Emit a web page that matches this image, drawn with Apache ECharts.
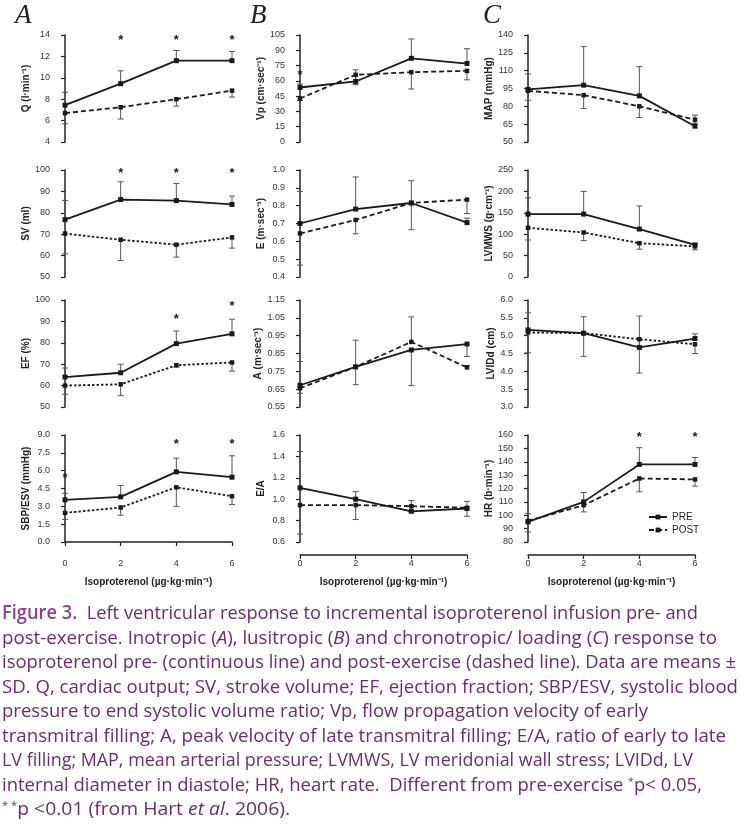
<!DOCTYPE html>
<html><head><meta charset="utf-8">
<script src="https://cdn.jsdelivr.net/npm/echarts@6/dist/echarts.min.js"></script>
<style>
html,body{margin:0;padding:0;background:#fff;}
#chart{position:absolute;left:0;top:0;width:740px;height:600px;}
.ln{position:absolute;left:2px;white-space:nowrap;font-family:"Open Sans","Noto Sans",sans-serif;font-size:19px;color:#6a2c6f;transform-origin:0 50%;line-height:24px;}
.fig{color:#8f3f95;font-weight:600;}
sup{font-size:11px;vertical-align:6px;line-height:0;}
</style></head>
<body>
<div id="chart"></div>
<div id="cap"></div>
<script>
// ---------- data ----------
const X = [0, 2, 4, 6];

const Q_PRE = [7.45, 9.45, 11.6, 11.6];
const Q_PRE_SD = [1.2, 1.2, 0.95, 0.85];
const Q_POST = [6.7, 7.25, 8.0, 8.8];
const Q_POST_SD = [1.0, 1.1, 0.65, 0.6];
const Q_STARS = [[2, 13.5], [4, 13.5], [6, 13.5]];

const SV_PRE = [76.8, 86.2, 85.7, 83.9];
const SV_PRE_SD = [9, 8.3, 8, 3.9];
const SV_POST = [70.3, 67.4, 65.1, 68.5];
const SV_POST_SD = [9.5, 9.7, 5.8, 5];
const SV_STARS = [[2, 98.5], [4, 98.5], [6, 98.5]];

const EF_PRE = [64, 66, 79.6, 84.2];
const EF_PRE_SD = [4.2, 4, 5.9, 6.8];
const EF_POST = [60, 60.6, 69.5, 70.8];
const EF_POST_SD = [4, 5.3, 0.8, 4];
const EF_STARS = [[4, 90.8], [6, 97]];

const SBP_PRE = [3.55, 3.8, 5.9, 5.45];
const SBP_PRE_SD = [0.55, 0.95, 1.15, 1.8];
const SBP_POST = [2.45, 2.9, 4.6, 3.85];
const SBP_POST_SD = [0.55, 0.65, 1.6, 0.7];
const SBP_STARS = [[0, 5.35], [4, 8.2], [6, 8.2]];

const VP_PRE = [53.5, 59.4, 82.1, 77];
const VP_PRE_SD = [3.3, 11.4, 19, 14.6];
const VP_POST = [42.7, 65.9, 68.5, 69.8];
const VP_POST_SD = [2, 9.7, 16.5, 8.8];
const VP_STARS = [[0, 65]];

const E_PRE = [0.70, 0.781, 0.815, 0.705];
const E_PRE_SD = [0.18, 0.18, 0.125, 0.025];
const E_POST = [0.644, 0.72, 0.815, 0.834];
const E_POST_SD = [0.177, 0.078, 0.15, 0.078];

const A_PRE = [0.672, 0.775, 0.87, 0.903];
const A_PRE_SD = [0.045, 0.1, 0.2, 0.07];
const A_POST = [0.655, 0.775, 0.915, 0.772];
const A_POST_SD = [0.15, 0.15, 0.14, 0.01];

const EA_PRE = [1.106, 1.0, 0.887, 0.913];
const EA_PRE_SD = [0.34, 0.07, 0.1, 0.067];
const EA_POST = [0.945, 0.945, 0.935, 0.92];
const EA_POST_SD = [0.27, 0.135, 0.055, 0.08];

const MAP_PRE = [94.2, 97.8, 88.8, 63.3];
const MAP_PRE_SD = [13, 32.4, 24.6, 9.3];
const MAP_POST = [93, 89.4, 80, 68.8];
const MAP_POST_SD = [7.9, 11.2, 9.4, 3];

const LVMWS_PRE = [147, 147, 112, 75];
const LVMWS_PRE_SD = [38, 53, 54, 3];
const LVMWS_POST = [115, 104, 79, 71.5];
const LVMWS_POST_SD = [28.5, 19, 14, 8];

const LVIDD_PRE = [5.16, 5.07, 4.67, 4.92];
const LVIDD_PRE_SD = [0.48, 0.46, 0.88, 0.13];
const LVIDD_POST = [5.09, 5.07, 4.9, 4.76];
const LVIDD_POST_SD = [0.57, 0.65, 0.95, 0.26];

const HR_PRE = [95, 110, 138, 138];
const HR_PRE_SD = [6.2, 7, 12.5, 5.2];
const HR_POST = [95.8, 107.5, 127.5, 126.8];
const HR_POST_SD = [8.3, 5, 10, 5];
const HR_STARS = [[4, 158], [6, 158]];

const X_TITLE = 'Isoproterenol (µg·kg·min⁻¹)';
const PANEL_LETTERS = ['A', 'B', 'C'];

// ---------- panels ----------
const DASH = [5, 3], DOT = [2.5, 2];
const PANELS = [
  {col:0,row:0,name:'Q (l·min⁻¹)',min:4,max:14,step:2,dec:0,pre:Q_PRE,preSd:Q_PRE_SD,post:Q_POST,postSd:Q_POST_SD,stars:Q_STARS,dash:DASH,dir:1},
  {col:0,row:1,name:'SV (ml)',min:50,max:100,step:10,dec:0,pre:SV_PRE,preSd:SV_PRE_SD,post:SV_POST,postSd:SV_POST_SD,stars:SV_STARS,dash:DOT,dir:1},
  {col:0,row:2,name:'EF (%)',min:50,max:100,step:10,dec:0,pre:EF_PRE,preSd:EF_PRE_SD,post:EF_POST,postSd:EF_POST_SD,stars:EF_STARS,dash:DOT,dir:1},
  {col:0,row:3,name:'SBP/ESV (mmHg)',min:0,max:9,step:1.5,dec:1,pre:SBP_PRE,preSd:SBP_PRE_SD,post:SBP_POST,postSd:SBP_POST_SD,stars:SBP_STARS,dash:DOT,dir:1},
  {col:1,row:0,name:'Vp (cm·sec⁻¹)',min:0,max:105,step:15,dec:0,pre:VP_PRE,preSd:VP_PRE_SD,post:VP_POST,postSd:VP_POST_SD,stars:VP_STARS,dash:DASH,dir:1},
  {col:1,row:1,name:'E (m·sec⁻¹)',min:0.4,max:1.0,step:0.1,dec:1,pre:E_PRE,preSd:E_PRE_SD,post:E_POST,postSd:E_POST_SD,stars:[],dash:DASH,dir:1},
  {col:1,row:2,name:'A (m·sec⁻¹)',min:0.55,max:1.15,step:0.1,dec:2,pre:A_PRE,preSd:A_PRE_SD,post:A_POST,postSd:A_POST_SD,stars:[],dash:DASH,dir:-1},
  {col:1,row:3,name:'E/A',min:0.6,max:1.6,step:0.2,dec:1,pre:EA_PRE,preSd:EA_PRE_SD,post:EA_POST,postSd:EA_POST_SD,stars:[],dash:DASH,dir:1},
  {col:2,row:0,name:'MAP (mmHg)',min:50,max:140,step:15,dec:0,pre:MAP_PRE,preSd:MAP_PRE_SD,post:MAP_POST,postSd:MAP_POST_SD,stars:[],dash:DASH,dir:1},
  {col:2,row:1,name:'LVMWS (g·cm⁻¹)',min:0,max:250,step:50,dec:0,pre:LVMWS_PRE,preSd:LVMWS_PRE_SD,post:LVMWS_POST,postSd:LVMWS_POST_SD,stars:[],dash:DOT,dir:1},
  {col:2,row:2,name:'LVIDd (cm)',min:3,max:6,step:0.5,dec:1,pre:LVIDD_PRE,preSd:LVIDD_PRE_SD,post:LVIDD_POST,postSd:LVIDD_POST_SD,stars:[],dash:DOT,dir:1},
  {col:2,row:3,name:'HR (b·min⁻¹)',min:80,max:160,step:10,dec:0,pre:HR_PRE,preSd:HR_PRE_SD,post:HR_POST,postSd:HR_POST_SD,stars:HR_STARS,dash:DASH,dir:1}
];

const COL_LEFT = [65, 300, 528];
const ROW_TOP = [35, 170, 300, 435];
const GW = 167, GH = 107;
const FONT = '"Liberation Sans", Arial, sans-serif';
const INK = '#1a1a1a';

function errRender(params, api) {
  const p0 = api.coord([api.value(0), api.value(1)]);
  const p1 = api.coord([api.value(0), api.value(2)]);
  return {type:'group', children:[
    {type:'line', shape:{x1:p0[0], y1:p0[1], x2:p1[0], y2:p1[1]}, style:{stroke:'#555', lineWidth:1}},
    {type:'line', shape:{x1:p1[0]-3, y1:p1[1], x2:p1[0]+3, y2:p1[1]}, style:{stroke:'#555', lineWidth:1}}
  ]};
}
function starRender(params, api) {
  const p = api.coord([api.value(0), api.value(1)]);
  return {type:'text', x:p[0], y:p[1], style:{text:'*', fill:INK, font:'bold 13px ' + FONT, align:'center', verticalAlign:'middle'}};
}

const grid = [], xAxis = [], yAxis = [], series = [];
PANELS.forEach((p, i) => {
  grid.push({left:COL_LEFT[p.col], top:ROW_TOP[p.row], width:GW, height:GH});
  const bottom = p.row === 3;
  xAxis.push({
    gridIndex:i, type:'value', min:0, max:6, interval:2, show:bottom, offset:13,
    axisLine:{lineStyle:{color:'#222', width:1.5}},
    axisTick:{length:4, lineStyle:{color:'#222', width:1.2}},
    axisLabel:{fontSize:9, color:'#333', margin:4, fontFamily:FONT},
    splitLine:{show:false},
    name: bottom ? X_TITLE : '', nameLocation:'middle', nameGap:22,
    nameTextStyle:{fontWeight:'bold', fontSize:10, color:'#222', fontFamily:FONT}
  });
  yAxis.push({
    gridIndex:i, type:'value', min:p.min, max:p.max, interval:p.step, offset:12,
    axisLine:{show:true, lineStyle:{color:'#222', width:1.5}},
    axisTick:{show:true, length:4, lineStyle:{color:'#222', width:1.2}},
    axisLabel:{fontSize:9, color:'#333', margin:3, fontFamily:FONT, formatter:v => Number(v).toFixed(p.dec)},
    splitLine:{show:false},
    name:p.name, nameLocation:'middle', nameRotate:90, nameGap: p.col === 2 ? 20 : 22,
    nameTextStyle:{fontWeight:'bold', fontSize:10, color:'#222', fontFamily:FONT}
  });
  series.push({
    type:'custom', xAxisIndex:i, yAxisIndex:i, renderItem:errRender, z:1, silent:true,
    data: X.map((x, k) => [x, p.pre[k], p.pre[k] + p.dir * p.preSd[k]])
  });
  series.push({
    type:'custom', xAxisIndex:i, yAxisIndex:i, renderItem:errRender, z:1, silent:true,
    data: X.map((x, k) => [x, p.post[k], p.post[k] - p.dir * p.postSd[k]])
  });
  series.push({
    type:'line', name:'POST', xAxisIndex:i, yAxisIndex:i, clip:false, z:3,
    data: X.map((x, k) => [x, p.post[k]]),
    symbol:'rect', symbolSize:4.5,
    lineStyle:{color:INK, width:1.8, type:p.dash},
    itemStyle:{color:INK}
  });
  series.push({
    type:'line', name:'PRE', xAxisIndex:i, yAxisIndex:i, clip:false, z:4,
    data: X.map((x, k) => [x, p.pre[k]]),
    symbol:'rect', symbolSize:5,
    lineStyle:{color:INK, width:1.8, type:'solid'},
    itemStyle:{color:INK}
  });
  if (p.stars.length) {
    series.push({type:'custom', xAxisIndex:i, yAxisIndex:i, renderItem:starRender, z:5, silent:true, data:p.stars});
  }
});

const graphic = PANEL_LETTERS.map((t, c) => ({
  type:'text', left:[15, 250, 483][c], top:2,
  style:{text:t, fill:'#222', font:'italic 27px "Liberation Serif", "Times New Roman", serif'}
}));

const chart = echarts.init(document.getElementById('chart'), null, {renderer:'canvas'});
chart.setOption({
  animation:false,
  backgroundColor:'#fff',
  textStyle:{fontFamily:FONT},
  grid, xAxis, yAxis, series, graphic,
  legend:{
    data:['PRE', 'POST'], orient:'vertical', left:643, top:507,
    itemWidth:18, itemHeight:6, itemGap:3, selectedMode:false,
    textStyle:{fontSize:10, color:'#222', fontFamily:FONT}
  }
});

// ---------- caption ----------
const CAPTION = [
  ['<span class="fig">Figure 3.</span>&nbsp; Left ventricular response to incremental isoproterenol infusion pre- and', 698],
  ['post-exercise. Inotropic (<i>A</i>), lusitropic (<i>B</i>) and chronotropic/ loading (<i>C</i>) response to', 717],
  ['isoproterenol pre- (continuous line) and post-exercise (dashed line). Data are means ±', 736],
  ['SD. Q, cardiac output; SV, stroke volume; EF, ejection fraction; SBP/ESV, systolic blood', 738],
  ['pressure to end systolic volume ratio; Vp, flow propagation velocity of early', 648],
  ['transmitral filling; A, peak velocity of late transmitral filling; E/A, ratio of early to late', 726],
  ['LV filling; MAP, mean arterial pressure; LVMWS, LV meridonial wall stress; LVIDd, LV', 693],
  ['internal diameter in diastole; HR, heart rate.&nbsp; Different from pre-exercise <sup>*</sup>p&lt; 0.05,', 702],
  ['<sup>* *</sup>p &lt;0.01 (from Hart <i>et al</i>. 2006).', 290]
];
const cap = document.getElementById('cap');
CAPTION.forEach((c, k) => {
  const d = document.createElement('div');
  d.className = 'ln';
  d.innerHTML = c[0];
  d.style.top = (612 + k * 24.5 - 12) + 'px';
  cap.appendChild(d);
  const w = d.getBoundingClientRect().width;
  d.style.transform = 'scaleX(' + ((c[1] - 2) / w).toFixed(4) + ')';
});
</script>
</body></html>
